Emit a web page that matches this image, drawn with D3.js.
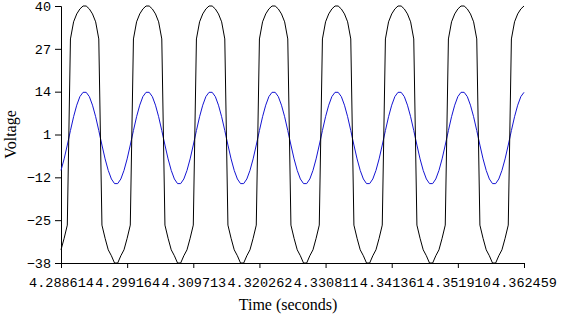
<!DOCTYPE html>
<html>
<head>
<meta charset="utf-8">
<script src="https://cdn.jsdelivr.net/npm/d3@7"></script>
<style>
  body { margin: 0; background: #fff; }
  .tick text { font-family: "Liberation Mono", monospace; font-size: 13.5px; fill: #000; }
  .title { font-family: "Liberation Serif", serif; font-size: 16px; fill: #000; }
</style>
</head>
<body>
<script>
// time range of the samples (seconds)
var tStart = 4.288614;
var tEnd = 4.362459;

// axis tick labels as printed
var xTickLabels = ["4.288614", "4.299164", "4.309713", "4.320262", "4.330811", "4.341361", "4.351910", "4.362459"];
var yTickLabels = [-38, -25, -12, 1, 14, 27, 40];

// blue trace
var blueValues = [
  -9.9, -6.4, -2.2, 2.2, 6.4, 9.9, 12.5, 13.8, 13.8, 12.5, 9.9, 6.4, 2.2, -2.2, -6.4, -9.9, -12.5, -13.9, -13.9, -12.5,
  -9.9, -6.4, -2.2, 2.2, 6.4, 9.9, 12.5, 13.8, 13.8, 12.5, 9.9, 6.4, 2.2, -2.2, -6.4, -9.9, -12.5, -13.9, -13.9, -12.5,
  -9.9, -6.4, -2.2, 2.2, 6.4, 9.9, 12.5, 13.8, 13.8, 12.5, 9.9, 6.4, 2.2, -2.2, -6.4, -9.9, -12.5, -13.9, -13.9, -12.5,
  -9.9, -6.4, -2.2, 2.2, 6.4, 9.9, 12.5, 13.8, 13.8, 12.5, 9.9, 6.4, 2.2, -2.2, -6.4, -9.9, -12.5, -13.9, -13.9, -12.5,
  -9.9, -6.4, -2.2, 2.2, 6.4, 9.9, 12.5, 13.8, 13.8, 12.5, 9.9, 6.4, 2.2, -2.2, -6.4, -9.9, -12.5, -13.9, -13.9, -12.5,
  -9.9, -6.4, -2.2, 2.2, 6.4, 9.9, 12.5, 13.8, 13.8, 12.5, 9.9, 6.4, 2.2, -2.2, -6.4, -9.9, -12.5, -13.9, -13.9, -12.5,
  -9.9, -6.4, -2.2, 2.2, 6.4, 9.9, 12.5, 13.8, 13.8, 12.5, 9.9, 6.4, 2.2, -2.2, -6.4, -9.9, -12.5, -13.9, -13.9, -12.5,
  -9.9, -6.4, -2.2, 2.2, 6.4, 9.9, 12.5, 13.8
];

// black trace
var blackValues = [
  -34, -30.5, -26.5, 30, 35.2, 37.6, 39.1, 40, 40, 39.1, 37.6, 35.2, 30, -26.5, -30.5, -34, -35.8, -38, -38, -35.8,
  -34, -30.5, -26.5, 30, 35.2, 37.6, 39.1, 40, 40, 39.1, 37.6, 35.2, 30, -26.5, -30.5, -34, -35.8, -38, -38, -35.8,
  -34, -30.5, -26.5, 30, 35.2, 37.6, 39.1, 40, 40, 39.1, 37.6, 35.2, 30, -26.5, -30.5, -34, -35.8, -38, -38, -35.8,
  -34, -30.5, -26.5, 30, 35.2, 37.6, 39.1, 40, 40, 39.1, 37.6, 35.2, 30, -26.5, -30.5, -34, -35.8, -38, -38, -35.8,
  -34, -30.5, -26.5, 30, 35.2, 37.6, 39.1, 40, 40, 39.1, 37.6, 35.2, 30, -26.5, -30.5, -34, -35.8, -38, -38, -35.8,
  -34, -30.5, -26.5, 30, 35.2, 37.6, 39.1, 40, 40, 39.1, 37.6, 35.2, 30, -26.5, -30.5, -34, -35.8, -38, -38, -35.8,
  -34, -30.5, -26.5, 30, 35.2, 37.6, 39.1, 40, 40, 39.1, 37.6, 35.2, 30, -26.5, -30.5, -34, -35.8, -38, -38, -35.8,
  -34, -30.5, -26.5, 30, 35.2, 37.6, 39.1, 40
];

var width = 571;
var height = 315;
var margin = {top: 6, right: 47, bottom: 52, left: 61};

var svg = d3.select("body").append("svg")
  .attr("width", width)
  .attr("height", height);

var x = d3.scaleLinear()
  .domain([tStart, tEnd])
  .range([margin.left, width - margin.right]);

var y = d3.scaleLinear()
  .domain([-38, 40])
  .range([height - margin.bottom, margin.top]);

// samples are evenly spaced over the time range
var dt = (tEnd - tStart) / (blackValues.length - 1);
var time = function(i){ return tStart + i * dt; };

var xAxis = d3.axisBottom(x)
  .tickValues(xTickLabels.map(Number))
  .tickFormat(function(d, i){ return xTickLabels[i]; })
  .tickSizeOuter(0)
  .tickSize(5);

var yAxis = d3.axisLeft(y)
  .tickValues(yTickLabels)
  .tickSizeOuter(0)
  .tickSize(6);

var gx = svg.append("g")
  .attr("transform", "translate(0," + (height - margin.bottom) + ")")
  .call(xAxis);
gx.selectAll(".tick text").attr("dy", "1.15em");

var gy = svg.append("g")
  .attr("transform", "translate(" + margin.left + ",0)")
  .call(yAxis);
gy.selectAll(".tick text").attr("x", -10);

svg.selectAll(".domain, .tick line").attr("stroke", "#000");

var line = d3.line()
  .x(function(d, i){ return x(time(i)); })
  .y(function(d){ return y(d); });

svg.append("path")
  .datum(blueValues)
  .attr("fill", "none")
  .attr("stroke", "#1414d2")
  .attr("stroke-width", 1)
  .attr("d", line);

svg.append("path")
  .datum(blackValues)
  .attr("fill", "none")
  .attr("stroke", "#000")
  .attr("stroke-width", 1)
  .attr("d", line);

// axis titles
svg.append("text")
  .attr("class", "title")
  .attr("x", 288)
  .attr("y", 310)
  .attr("text-anchor", "middle")
  .text("Time (seconds)");

svg.append("text")
  .attr("class", "title")
  .attr("transform", "translate(16," + ((margin.top + height - margin.bottom) / 2) + ") rotate(-90)")
  .attr("text-anchor", "middle")
  .text("Voltage");
</script>
</body>
</html>
